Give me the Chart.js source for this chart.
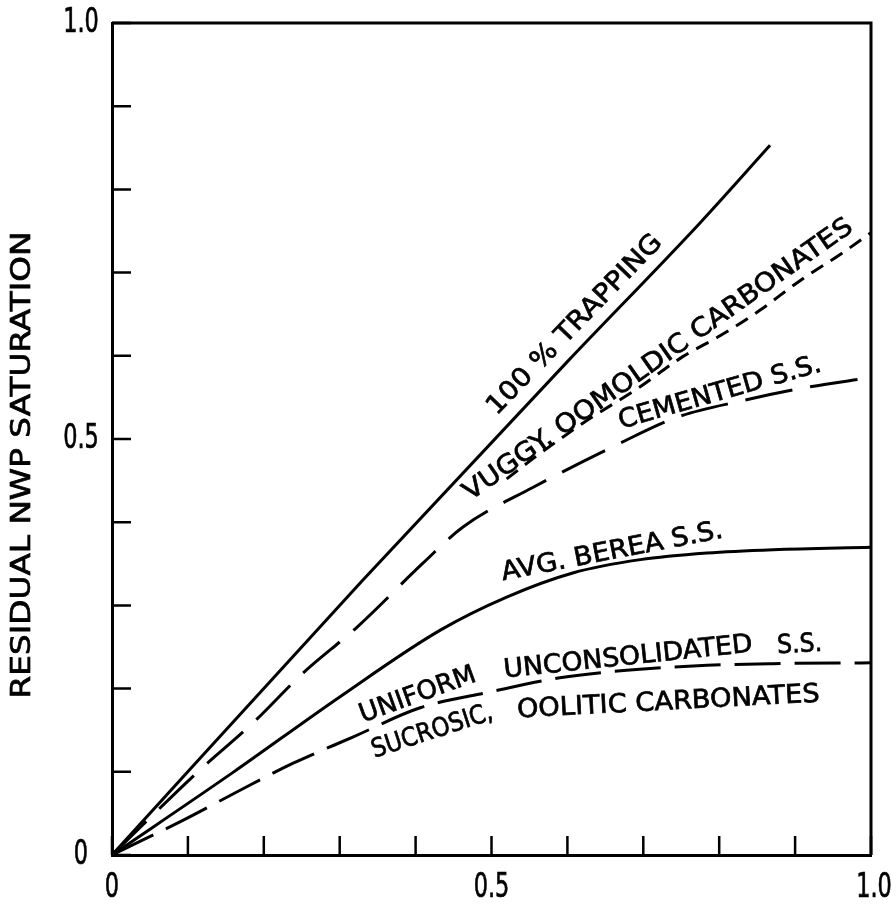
<!DOCTYPE html>
<html>
<head>
<meta charset="utf-8">
<script src="https://cdn.jsdelivr.net/npm/chart.js@4.4.0/dist/chart.umd.min.js"></script>
<style>
  html, body { margin: 0; padding: 0; background: #fff; }
  #wrap { width: 896px; height: 911px; position: relative; }
</style>
</head>
<body>
<div id="wrap"><canvas id="nwpChart"></canvas></div>
<script>
// Values (x = initial, y = residual NWP saturation)
const trappingX = [0, 0.33, 0.6, 0.775, 0.867];
const trappingY = [0, 0.33, 0.593, 0.76, 0.853];

const vuggyX = [0.52, 0.56, 0.627, 0.693, 0.752, 0.801, 0.854, 0.906, 0.963, 1.0];
const vuggyY = [0.452, 0.48, 0.523, 0.561, 0.599, 0.624, 0.655, 0.69, 0.724, 0.748];

const cementedX = [0, 0.112, 0.186, 0.252, 0.323, 0.41, 0.462, 0.555, 0.665, 0.744, 0.83, 0.909, 1.0];
const cementedY = [0, 0.099, 0.159, 0.219, 0.274, 0.351, 0.394, 0.442, 0.493, 0.526, 0.546, 0.561, 0.574];

const bereaX = [0, 0.159, 0.3, 0.432, 0.52, 0.607, 0.696, 0.784, 0.871, 1.0];
const bereaY = [0, 0.099, 0.19, 0.27, 0.31, 0.339, 0.355, 0.363, 0.367, 0.37];

const uniformX = [0, 0.094, 0.165, 0.238, 0.318, 0.406, 0.498, 0.59, 0.678, 0.784, 0.871, 1.0];
const uniformY = [0, 0.042, 0.076, 0.11, 0.142, 0.177, 0.196, 0.213, 0.222, 0.228, 0.23, 0.231];

// only these ticks carry a label
const labelledTicks = [0, 0.5, 1];
const tickLabels = ['0', '0.5', '1.0'];

const yTitle = 'RESIDUAL NWP SATURATION';

function toPoints(xs, ys) {
    return xs.map((x, i) => ({x: x, y: ys[i]}));
}

//Curve labels, placed in data space and stretched to the width seen in the picture
const curveLabels = [
    {text: '100 % TRAPPING', x: 0.61, y: 0.637, angle: -46, width: 240},
    {text: 'VUGGY. OOMOLDIC CARBONATES', x: 0.72, y: 0.595, angle: -35.2, width: 470},
    {text: 'CEMENTED S.S.', x: 0.801, y: 0.555, angle: -16, width: 210},
    {text: 'AVG. BEREA S.S.', x: 0.659, y: 0.364, angle: -11, width: 225},
    {text: 'UNIFORM', x: 0.403, y: 0.192, angle: -20, width: 122},
    {text: 'UNCONSOLIDATED', x: 0.68, y: 0.237, angle: -6, width: 250},
    {text: 'S.S.', x: 0.906, y: 0.252, angle: -3, width: 45},
    {text: 'SUCROSIC,', x: 0.422, y: 0.148, angle: -18, width: 126},
    {text: 'OOLITIC CARBONATES', x: 0.733, y: 0.183, angle: -3, width: 303}
];

//Draw text rotated around its centre, squeezed horizontally by sx
function drawText(ctx, text, cx, cy, angle, sx, font) {
    ctx.save();
    ctx.translate(cx, cy);
    ctx.rotate(angle * Math.PI / 180);
    ctx.font = font;
    ctx.scale(sx, 1);
    ctx.textAlign = 'center';
    ctx.textBaseline = 'middle';
    ctx.fillStyle = '#000';
    ctx.strokeStyle = '#000';
    ctx.lineWidth = 0.7;
    ctx.fillText(text, 0, 0);
    ctx.strokeText(text, 0, 0);
    ctx.restore();
}

function drawFitted(ctx, text, cx, cy, angle, width, font) {
    ctx.save();
    ctx.font = font;
    let w = ctx.measureText(text).width;
    ctx.restore();
    drawText(ctx, text, cx, cy, angle, width / w, font);
}

const inkPlugin = {
    id: 'ink',
    afterDraw(chart) {
        const {ctx, chartArea: a, scales: {x, y}} = chart;
        ctx.save();
        ctx.strokeStyle = '#000';
        ctx.lineCap = 'butt';
        //Top and right frame
        ctx.lineWidth = 3;
        ctx.beginPath();
        ctx.moveTo(a.left, a.top);
        ctx.lineTo(a.right, a.top);
        ctx.lineTo(a.right, a.bottom);
        ctx.stroke();
        //Inner tick marks
        ctx.lineWidth = 2.5;
        ctx.beginPath();
        x.ticks.forEach(t => {
            let px = x.getPixelForValue(t.value);
            ctx.moveTo(px, a.bottom);
            ctx.lineTo(px, a.bottom - 19);
        });
        y.ticks.forEach(t => {
            let py = y.getPixelForValue(t.value);
            ctx.moveTo(a.left, py);
            ctx.lineTo(a.left + 19, py);
        });
        ctx.stroke();
        ctx.restore();

        //Tick labels
        const tickFont = '33px "DejaVu Sans"';
        labelledTicks.forEach((v, i) => {
            drawText(ctx, tickLabels[i], a.left - 31, y.getPixelForValue(v), 0, 0.68, tickFont);
            drawText(ctx, tickLabels[i], x.getPixelForValue(v) + (v === 1 ? 3 : 0), a.bottom + 33, 0, 0.68, tickFont);
        });

        curveLabels.forEach(l => {
            drawFitted(ctx, l.text, x.getPixelForValue(l.x), y.getPixelForValue(l.y),
                l.angle, l.width, '26px "DejaVu Sans"');
        });
        //Axis title
        drawFitted(ctx, yTitle, 23, 465, -90, 467, '27px "DejaVu Sans"');
    }
};

const lineStyle = {borderColor: '#000', borderWidth: 3, pointRadius: 0, fill: false, cubicInterpolationMode: 'monotone'};

new Chart(document.getElementById('nwpChart'), {
    type: 'line',
    data: {
        datasets: [
            Object.assign({label: '100 % Trapping', data: toPoints(trappingX, trappingY)}, lineStyle),
            Object.assign({label: 'Vuggy, oomoldic carbonates', data: toPoints(vuggyX, vuggyY), borderDash: [14, 9]}, lineStyle),
            Object.assign({label: 'Cemented S.S.', data: toPoints(cementedX, cementedY), borderDash: [48, 18]}, lineStyle),
            Object.assign({label: 'Avg. Berea S.S.', data: toPoints(bereaX, bereaY)}, lineStyle),
            Object.assign({label: 'Uniform unconsolidated S.S.', data: toPoints(uniformX, uniformY), borderDash: [46, 14]}, lineStyle)
        ]
    },
    options: {
        responsive: true,
        maintainAspectRatio: false,
        animation: false,
        layout: {padding: {top: 23, right: 25, left: 0, bottom: 0}},
        plugins: {legend: {display: false}, tooltip: {enabled: false}},
        scales: {
            x: {
                type: 'linear',
                min: 0,
                max: 1,
                afterFit: s => { s.height = 56; s.paddingLeft = 0; s.paddingRight = 0; },
                grid: {display: false, drawTicks: false},
                border: {display: true, color: '#000', width: 3},
                ticks: {stepSize: 0.1, autoSkip: false, display: false}
            },
            y: {
                type: 'linear',
                min: 0,
                max: 1,
                afterFit: s => { s.width = 112; s.paddingTop = 0; s.paddingBottom = 0; },
                grid: {display: false, drawTicks: false},
                border: {display: true, color: '#000', width: 3},
                ticks: {stepSize: 0.1, autoSkip: false, display: false}
            }
        }
    },
    plugins: [inkPlugin]
});
</script>
</body>
</html>
